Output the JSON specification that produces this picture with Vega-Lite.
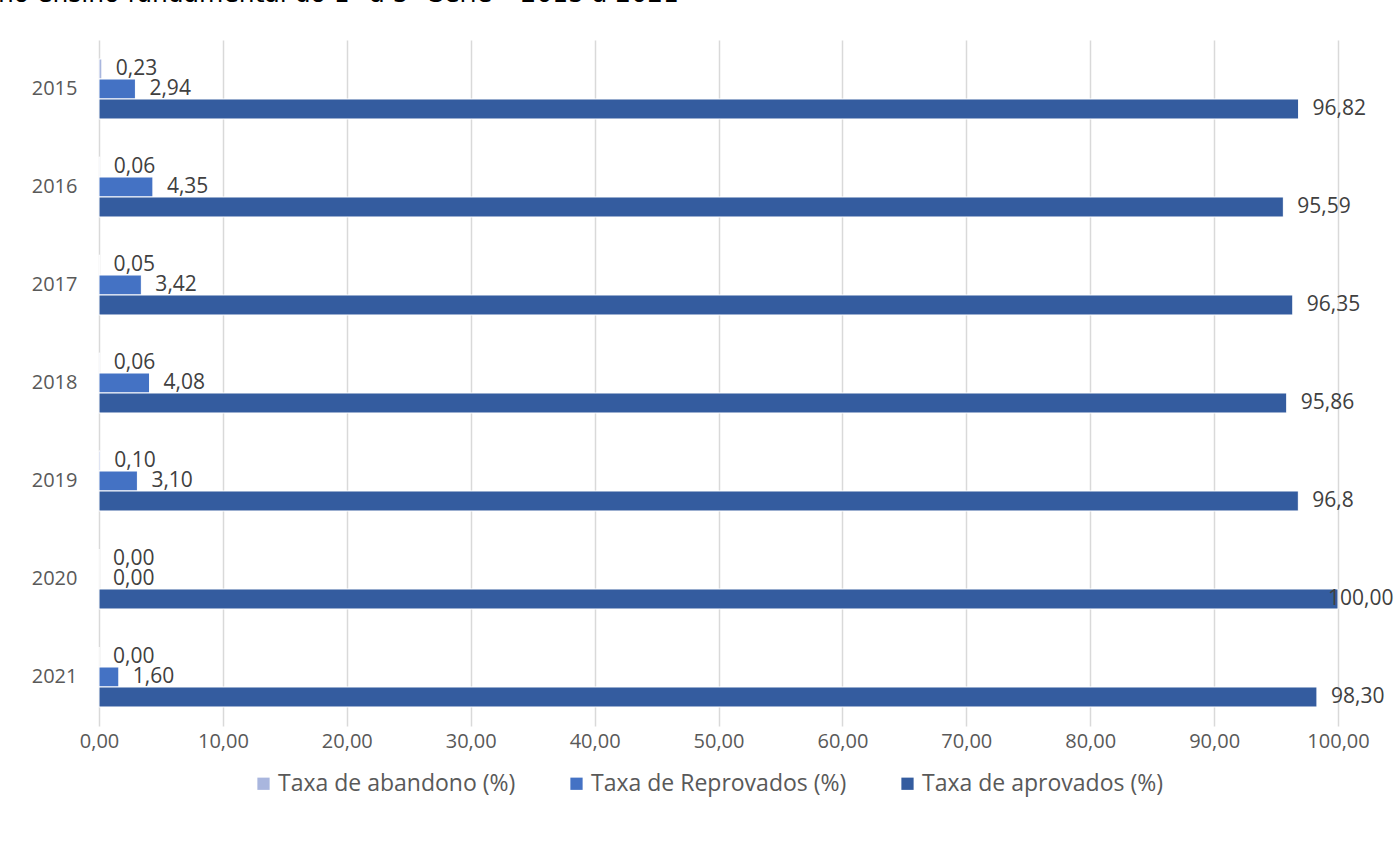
{
  "$schema": "https://vega.github.io/schema/vega-lite/v6.json",
  "width": 1239,
  "height": 686,
  "autosize": {"type": "none"},
  "padding": {"left": 99, "top": 40, "right": 56, "bottom": 119},
  "background": "white",
  "config": {"view": {"stroke": null}},
  "title": {
    "text": "no ensino fundamental do 1º a 5º Série – 2015 a 2021",
    "anchor": "start",
    "frame": "group",
    "font": "DejaVu Sans",
    "fontSize": 25,
    "fontWeight": "normal",
    "color": "#000000",
    "baseline": "alphabetic",
    "offset": 13,
    "dx": -101
  },
  "data": {
    "values": [
      {"ano": "2015", "serie": "Taxa de abandono (%)", "valor": 0.23, "rotulo": "0,23"},
      {"ano": "2015", "serie": "Taxa de Reprovados (%)", "valor": 2.94, "rotulo": "2,94"},
      {"ano": "2015", "serie": "Taxa de aprovados (%)", "valor": 96.82, "rotulo": "96,82"},
      {"ano": "2016", "serie": "Taxa de abandono (%)", "valor": 0.06, "rotulo": "0,06"},
      {"ano": "2016", "serie": "Taxa de Reprovados (%)", "valor": 4.35, "rotulo": "4,35"},
      {"ano": "2016", "serie": "Taxa de aprovados (%)", "valor": 95.59, "rotulo": "95,59"},
      {"ano": "2017", "serie": "Taxa de abandono (%)", "valor": 0.05, "rotulo": "0,05"},
      {"ano": "2017", "serie": "Taxa de Reprovados (%)", "valor": 3.42, "rotulo": "3,42"},
      {"ano": "2017", "serie": "Taxa de aprovados (%)", "valor": 96.35, "rotulo": "96,35"},
      {"ano": "2018", "serie": "Taxa de abandono (%)", "valor": 0.06, "rotulo": "0,06"},
      {"ano": "2018", "serie": "Taxa de Reprovados (%)", "valor": 4.08, "rotulo": "4,08"},
      {"ano": "2018", "serie": "Taxa de aprovados (%)", "valor": 95.86, "rotulo": "95,86"},
      {"ano": "2019", "serie": "Taxa de abandono (%)", "valor": 0.10, "rotulo": "0,10"},
      {"ano": "2019", "serie": "Taxa de Reprovados (%)", "valor": 3.10, "rotulo": "3,10"},
      {"ano": "2019", "serie": "Taxa de aprovados (%)", "valor": 96.8, "rotulo": "96,8"},
      {"ano": "2020", "serie": "Taxa de abandono (%)", "valor": 0.00, "rotulo": "0,00"},
      {"ano": "2020", "serie": "Taxa de Reprovados (%)", "valor": 0.00, "rotulo": "0,00"},
      {"ano": "2020", "serie": "Taxa de aprovados (%)", "valor": 100.00, "rotulo": "100,00"},
      {"ano": "2021", "serie": "Taxa de abandono (%)", "valor": 0.00, "rotulo": "0,00"},
      {"ano": "2021", "serie": "Taxa de Reprovados (%)", "valor": 1.60, "rotulo": "1,60"},
      {"ano": "2021", "serie": "Taxa de aprovados (%)", "valor": 98.30, "rotulo": "98,30"}
    ]
  },
  "encoding": {
    "y": {
      "field": "ano",
      "type": "nominal",
      "sort": ["2015", "2016", "2017", "2018", "2019", "2020", "2021"],
      "scale": {"paddingInner": 0.388, "paddingOuter": 0.194},
      "axis": {
        "title": null,
        "domain": false,
        "ticks": false,
        "grid": false,
        "labelPadding": 22,
        "labelFont": "Open Sans",
        "labelFontSize": 20,
        "labelColor": "#595959"
      }
    },
    "yOffset": {
      "field": "serie",
      "type": "nominal",
      "scale": {"domain": ["Taxa de abandono (%)", "Taxa de Reprovados (%)", "Taxa de aprovados (%)"]}
    },
    "x": {
      "field": "valor",
      "type": "quantitative",
      "scale": {"domain": [0, 100], "nice": false},
      "axis": {
        "title": null,
        "values": [0, 10, 20, 30, 40, 50, 60, 70, 80, 90, 100],
        "labelExpr": "replace(format(datum.value, '.2f'), '.', ',')",
        "domain": false,
        "ticks": false,
        "grid": true,
        "gridColor": "#D9D9D9",
        "gridWidth": 1.5,
        "labelPadding": 5,
        "labelFont": "Open Sans",
        "labelFontSize": 20,
        "labelColor": "#595959",
        "labelFlush": false
      }
    }
  },
  "layer": [
    {
      "mark": {"type": "bar", "stroke": "white", "strokeWidth": 1},
      "encoding": {
        "color": {
          "field": "serie",
          "type": "nominal",
          "scale": {
            "domain": ["Taxa de abandono (%)", "Taxa de Reprovados (%)", "Taxa de aprovados (%)"],
            "range": ["#A9B6DE", "#4472C4", "#345C9F"]
          },
          "legend": {
            "title": null,
            "orient": "none",
            "direction": "horizontal",
            "legendX": 153,
            "legendY": 732,
            "symbolType": "square",
            "symbolSize": 150,
            "symbolStrokeWidth": 0,
            "labelFont": "Open Sans",
            "labelFontSize": 23,
            "labelColor": "#595959",
            "labelOffset": 3,
            "labelLimit": 500,
            "columnPadding": 49
          }
        }
      }
    },
    {
      "transform": [{"filter": "datum.valor < 100"}],
      "mark": {"type": "text", "align": "left", "baseline": "middle", "dx": 14, "font": "Open Sans", "fontSize": 21, "color": "#404040"},
      "encoding": {"text": {"field": "rotulo"}}
    },
    {
      "transform": [{"filter": "datum.valor >= 100"}],
      "mark": {"type": "text", "align": "left", "baseline": "middle", "dx": -10, "font": "Open Sans", "fontSize": 21, "color": "#404040"},
      "encoding": {"text": {"field": "rotulo"}}
    }
  ]
}
